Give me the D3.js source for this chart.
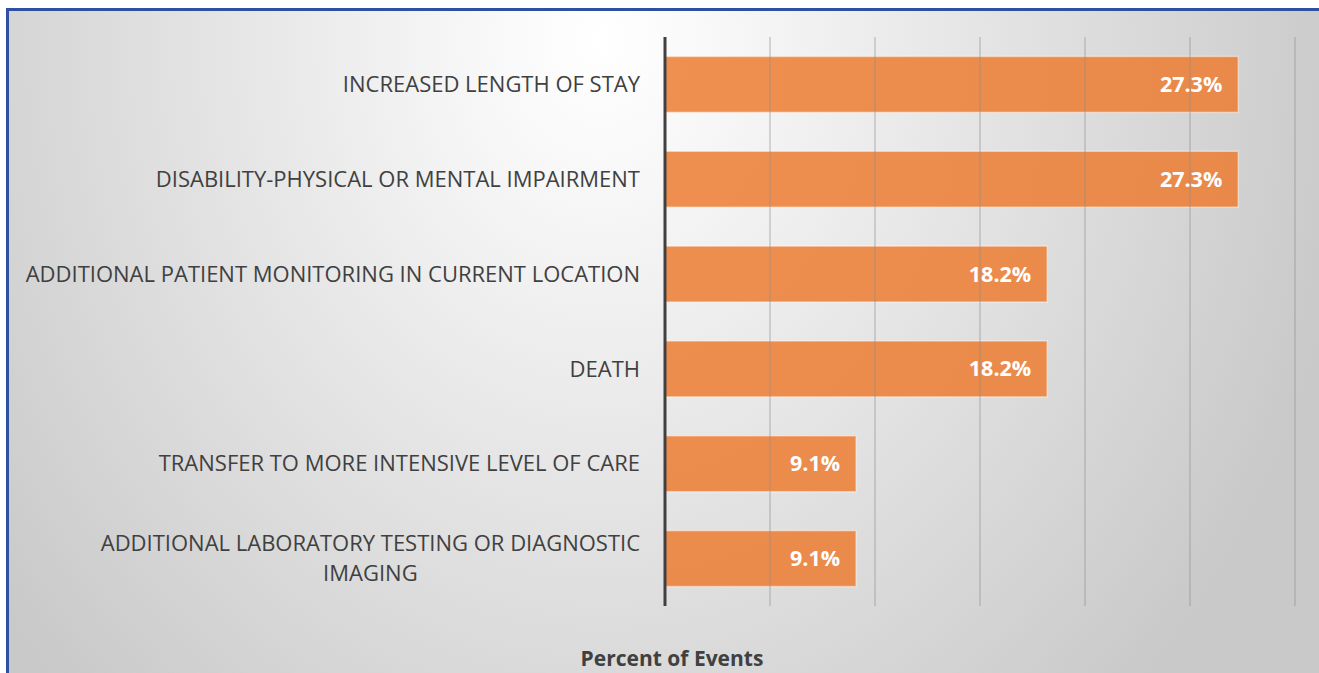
<!DOCTYPE html>
<html>
<head>
<meta charset="utf-8">
<script src="https://cdn.jsdelivr.net/npm/d3@7"></script>
<style>
  html, body { margin: 0; padding: 0; background: #fff; }
  svg { display: block; }
  text { font-family: "Open Sans", "DejaVu Sans", sans-serif; }
</style>
</head>
<body>
<svg id="chart"></svg>
<script>
// chart values
var categories = [
    "INCREASED LENGTH OF STAY",
    "DISABILITY-PHYSICAL OR MENTAL IMPAIRMENT",
    "ADDITIONAL PATIENT MONITORING IN CURRENT LOCATION",
    "DEATH",
    "TRANSFER TO MORE INTENSIVE LEVEL OF CARE",
    "ADDITIONAL LABORATORY TESTING OR DIAGNOSTIC|IMAGING"
];
var percents = [27.3, 27.3, 18.2, 18.2, 9.1, 9.1];
var gridTicks = [0, 5, 10, 15, 20, 25, 30];
var axisTitle = "Percent of Events";

var width = 1319, height = 673;
var svg = d3.select("#chart").attr("width", width).attr("height", height);

// background with soft radial shading
var defs = svg.append("defs");
var grad = defs.append("radialGradient")
    .attr("id", "bg")
    .attr("gradientUnits", "userSpaceOnUse")
    .attr("cx", 600).attr("cy", 40).attr("r", 760)
    .attr("gradientTransform", "translate(600,40) scale(1,1.2) translate(-600,-40)");
grad.append("stop").attr("offset", 0).attr("stop-color", "#ffffff");
grad.append("stop").attr("offset", 0.15).attr("stop-color", "#f8f8f8");
grad.append("stop").attr("offset", 1).attr("stop-color", "#c9c9c9");

svg.append("rect").attr("width", width).attr("height", height).attr("fill", "#fff");
svg.append("rect")
    .attr("x", 8).attr("y", 10)
    .attr("width", width - 8).attr("height", height - 10)
    .attr("fill", "url(#bg)");
// blue frame on top and left
svg.append("line").attr("x1", 7).attr("x2", width).attr("y1", 9.5).attr("y2", 9.5)
    .attr("stroke", "#2f4fa2").attr("stroke-width", 3);
svg.append("line").attr("x1", 7.5).attr("x2", 7.5).attr("y1", 8).attr("y2", height)
    .attr("stroke", "#2f4fa2").attr("stroke-width", 3);

var x = d3.scaleLinear().domain([0, 30]).range([665, 1295]);
var y = d3.scaleBand().domain(categories).range([37, 606]).paddingInner(0.41).paddingOuter(0.205);

var g = svg.append("g");

// bars
g.selectAll(".bar")
    .data(percents)
    .enter().append("rect")
    .attr("class", "bar")
    .attr("x", x(0))
    .attr("y", (d, i) => y(categories[i]))
    .attr("width", d => x(d) - x(0))
    .attr("height", y.bandwidth())
    .attr("fill", "#ed7d31")
    .attr("fill-opacity", 0.85)
    .attr("stroke", "#ffffff")
    .attr("stroke-opacity", 0.45)
    .attr("stroke-width", 1.5);

// vertical gridlines (drawn over bars, faint)
g.selectAll(".grid")
    .data(gridTicks.slice(1))
    .enter().append("line")
    .attr("x1", d => x(d)).attr("x2", d => x(d))
    .attr("y1", 37).attr("y2", 606)
    .attr("stroke", "#8c8c8c")
    .attr("stroke-opacity", 0.32)
    .attr("stroke-width", 2);

// value axis baseline
g.append("line")
    .attr("x1", x(0)).attr("x2", x(0))
    .attr("y1", 37).attr("y2", 606)
    .attr("stroke", "#404040")
    .attr("stroke-width", 3);

// value labels
g.selectAll(".val")
    .data(percents)
    .enter().append("text")
    .attr("x", d => x(d) - 16)
    .attr("y", (d, i) => y(categories[i]) + y.bandwidth() / 2)
    .attr("dy", "0.35em")
    .attr("text-anchor", "end")
    .attr("fill", "#ffffff")
    .attr("font-weight", "bold")
    .attr("font-size", "21.5px")
    .text(d => d.toFixed(1) + "%");

// category labels
categories.forEach(function (c, i) {
    var lines = c.split("|");
    var cy = y(c) + y.bandwidth() / 2;
    var lh = 30;
    var t = g.append("text")
        .attr("fill", "#404040")
        .attr("font-size", "22px");
    if (lines.length === 1) {
        t.attr("x", 640).attr("y", cy).attr("dy", "0.35em").attr("text-anchor", "end").text(c);
    } else {
        // right-aligned block, lines centred within it
        t.attr("text-anchor", "middle");
        var tmp = t.append("tspan").text(lines[0]);
        var w = tmp.node().getComputedTextLength();
        tmp.remove();
        lines.forEach(function (l, j) {
            t.append("tspan")
                .attr("x", 640 - w / 2)
                .attr("y", cy + (j - (lines.length - 1) / 2) * lh)
                .attr("dy", "0.35em")
                .text(l);
        });
    }
});

// axis title
svg.append("text")
    .attr("x", 672).attr("y", 666)
    .attr("text-anchor", "middle")
    .attr("fill", "#404040")
    .attr("font-weight", "bold")
    .attr("font-size", "21px")
    .text(axisTitle);
</script>
</body>
</html>
